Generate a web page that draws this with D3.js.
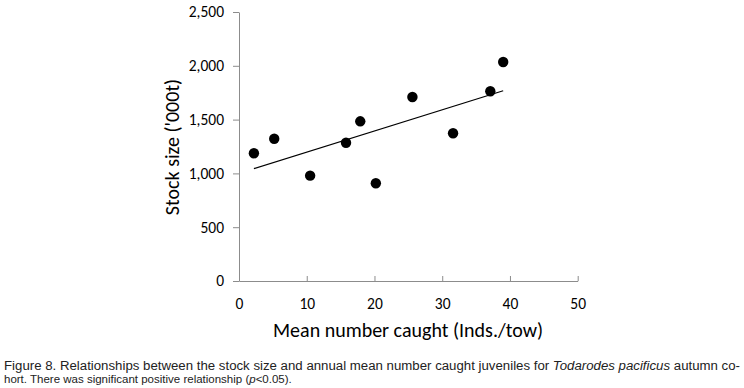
<!DOCTYPE html>
<html>
<head>
<meta charset="utf-8">
<script src="https://cdn.jsdelivr.net/npm/d3@7"></script>
<style>
  body { margin: 0; background: #fff; }
  .axis path, .axis line { stroke: #8c8c8c; }
  .axis text { font-family: Carlito, "Open Sans", sans-serif; font-size: 15.5px; fill: #000; }
</style>
</head>
<body>
<svg width="744" height="388"></svg>
<script>
// mean number caught (Inds./tow) vs stock size ('000t)
var caught = [2.2, 5.2, 10.5, 15.8, 17.9, 20.2, 25.6, 31.6, 37.1, 39.0];
var stock = [1187, 1322, 979, 1285, 1484, 908, 1710, 1373, 1763, 2035];
var xTicks = [0, 10, 20, 30, 40, 50];
var yTicks = [0, 500, 1000, 1500, 2000, 2500];

var svg = d3.select('svg');
var margin = {top: 12, left: 239};
var width = 338.7, height = 269;

var g = svg.append('g')
  .attr('transform', `translate(${margin.left},${margin.top})`);

var x = d3.scaleLinear().domain([0, 50]).range([0, width]);
var y = d3.scaleLinear().domain([0, 2500]).range([height, 0]);

g.append('g')
  .attr('class', 'axis')
  .attr('transform', `translate(0,${height})`)
  .call(d3.axisBottom(x).tickValues(xTicks).tickSize(-5).tickPadding(17).tickSizeOuter(0))
  .call(s => s.selectAll('text').attr('dy', '0.71em'));

g.append('g')
  .attr('class', 'axis')
  .call(d3.axisLeft(y).tickValues(yTicks).tickSize(6).tickPadding(9).tickSizeOuter(0).tickFormat(d3.format(',')));

// linear fit
var mx = d3.mean(caught), my = d3.mean(stock);
var sxy = d3.sum(caught, (d, i) => (d - mx) * (stock[i] - my));
var sxx = d3.sum(caught, d => (d - mx) * (d - mx));
var slope = sxy / sxx, icpt = my - slope * mx;
var ext = d3.extent(caught);

g.append('line')
  .attr('x1', x(ext[0])).attr('y1', y(icpt + slope * ext[0]))
  .attr('x2', x(ext[1])).attr('y2', y(icpt + slope * ext[1]))
  .attr('stroke', '#000').attr('stroke-width', 1.2);

g.selectAll('circle')
  .data(caught)
  .enter().append('circle')
    .attr('cx', d => x(d))
    .attr('cy', (d, i) => y(stock[i]))
    .attr('r', 5.2)
    .attr('fill', '#000');

svg.append('text')
  .attr('x', 408).attr('y', 337)
  .attr('text-anchor', 'middle')
  .attr('font-family', 'Carlito, "Open Sans", sans-serif')
  .attr('font-size', 20)
  .text('Mean number caught (Inds./tow)');

svg.append('text')
  .attr('transform', 'translate(179,147) rotate(-90)')
  .attr('text-anchor', 'middle')
  .attr('font-family', 'Carlito, "Open Sans", sans-serif')
  .attr('font-size', 20)
  .text("Stock size ('000t)");

// caption
var cap = svg.append('g')
  .attr('font-family', '"Liberation Sans", Arial, sans-serif')
  .attr('font-size', 12)
  .attr('fill', '#222');

var l1 = cap.append('text').attr('x', 4).attr('y', 370)
  .attr('textLength', 736).attr('lengthAdjust', 'spacingAndGlyphs');
l1.append('tspan').text('Figure 8. Relationships between the stock size and annual mean number caught juveniles for ');
l1.append('tspan').attr('font-style', 'italic').text('Todarodes pacificus');
l1.append('tspan').text(' autumn co-');

var l2 = cap.append('text').attr('x', 4).attr('y', 383)
  .attr('font-size', 11.5);
l2.append('tspan').text('hort. There was significant positive relationship (');
l2.append('tspan').attr('font-style', 'italic').text('p');
l2.append('tspan').text('<0.05).');
</script>
</body>
</html>
